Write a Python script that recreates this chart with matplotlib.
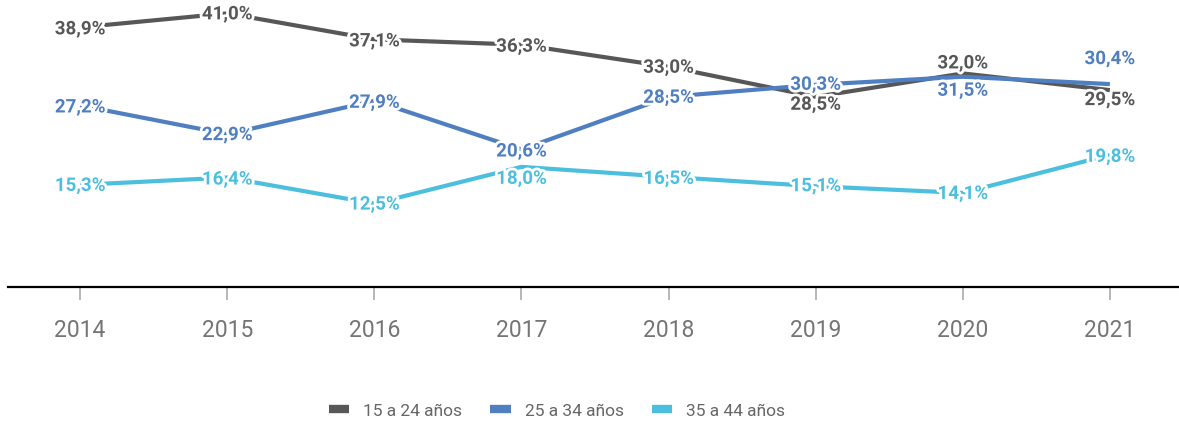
import matplotlib
matplotlib.use("Agg")
import matplotlib.pyplot as plt
import matplotlib.patheffects as pe
from matplotlib.lines import Line2D

years = [2014, 2015, 2016, 2017, 2018, 2019, 2020, 2021]
series_names = ["15 a 24 años", "25 a 34 años", "35 a 44 años"]
s15_24 = [38.9, 41.0, 37.1, 36.3, 33.0, 28.5, 32.0, 29.5]
s25_34 = [27.2, 22.9, 27.9, 20.6, 28.5, 30.3, 31.5, 30.4]
s35_44 = [15.3, 16.4, 12.5, 18.0, 16.5, 15.1, 14.1, 19.8]

colors = ["#575757", "#4f7fc0", "#4cbfdf"]
# label offsets in pixels (layout only)
offsets = [
    [-2, -1, -2, -2, -1, -8, 10, -10],
    [-2, -1, -2, -2, -1, 0, -14, 25],
    [-1, -2, -1, -12, -2, 0, -1, -2],
]

plt.rcParams['font.family'] = ['Roboto', 'DejaVu Sans']
fig = plt.figure(figsize=(11.79, 4.23), dpi=100)
ax = fig.add_axes([8 / 1179, (423 - 287) / 423, 1 - 8 / 1179, 287 / 423])

all_series = [s15_24, s25_34, s35_44]
for name, vals, col in zip(series_names, all_series, colors):
    ax.plot(years, vals, color=col, lw=3.0, solid_capstyle='butt', zorder=2)

for vals, col, offs in zip(all_series, colors, offsets):
    for x, v, o in zip(years, vals, offs):
        ax.annotate(f"{v:.1f}%".replace(".", ","), (x, v), xytext=(0, o * 0.72),
                    textcoords='offset points', ha='center', va='center',
                    fontsize=13.5, fontweight='bold', color=col, zorder=5,
                    path_effects=[pe.withStroke(linewidth=4, foreground='white')])

ax.set_xlim(2013.51, 2021.47)
ax.set_ylim(0, 43)
ax.set_xticks(years)
ax.set_xticklabels([str(y) for y in years], fontsize=16.5, color='#757575')
ax.tick_params(axis='x', length=9, width=1.2, color='#aaaaaa', pad=14)
ax.set_yticks([])
for s in ['top', 'right', 'left']:
    ax.spines[s].set_visible(False)
ax.spines['bottom'].set_color('black')
ax.spines['bottom'].set_linewidth(1.6)

handles = [Line2D([0], [0], color=c, lw=6, solid_capstyle='butt') for c in colors]
leg = fig.legend(handles, series_names, loc='center', bbox_to_anchor=(557 / 1179, 1 - 411 / 423),
                 ncol=3, frameon=False, fontsize=12.5, handlelength=1.2, columnspacing=1.6,
                 handletextpad=0.8)
for t in leg.get_texts():
    t.set_color('#666666')

fig.savefig("out.png", dpi=100)
